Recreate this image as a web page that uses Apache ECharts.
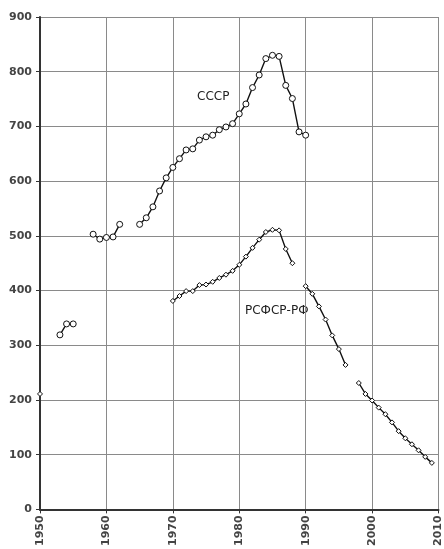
<!DOCTYPE html>
<html lang="ru">
<head>
    <meta charset="UTF-8">
    <title>Аборты СССР / РСФСР-РФ</title>
    <script src="https://cdn.jsdelivr.net/npm/echarts@6/dist/echarts.min.js"></script>
    <style>
        html, body { margin: 0; padding: 0; background: #fff; }
    </style>
</head>
<body>
    <div id="main" style="width: 444px;height:549px;"></div>
    <script type="text/javascript">
      // data, null = no value (line breaks there)
      var ussrYears = [1953, 1954, 1955, 1956, 1957, 1958, 1959, 1960, 1961, 1962, 1963, 1964,
                       1965, 1966, 1967, 1968, 1969, 1970, 1971, 1972, 1973, 1974, 1975, 1976,
                       1977, 1978, 1979, 1980, 1981, 1982, 1983, 1984, 1985, 1986, 1987, 1988,
                       1989, 1990];
      var ussrValues = [319, 339, 339, null, null, 503, 494, 497, 498, 521, null, null,
                        521, 533, 553, 582, 606, 625, 641, 657, 659, 675, 681, 684,
                        694, 699, 705, 723, 741, 771, 794, 824, 830, 828, 775, 751,
                        690, 684];

      var rsfsrYears = [1950, 1951,
                        1970, 1971, 1972, 1973, 1974, 1975, 1976, 1977, 1978, 1979,
                        1980, 1981, 1982, 1983, 1984, 1985, 1986, 1987, 1988, 1989,
                        1990, 1991, 1992, 1993, 1994, 1995, 1996, 1997, 1998, 1999,
                        2000, 2001, 2002, 2003, 2004, 2005, 2006, 2007, 2008, 2009];
      var rsfsrValues = [211, null,
                         381, 390, 399, 399, 410, 411, 416, 423, 429, 436,
                         447, 462, 478, 493, 507, 511, 510, 476, 450, null,
                         408, 394, 371, 347, 318, 293, 264, null, 231, 211,
                         199, 186, 174, 159, 143, 130, 119, 108, 96, 85];

      var yearTicks = [1950, 1960, 1970, 1980, 1990, 2000, 2010];

      function pairs(xs, ys) {
        return xs.map(function (x, i) { return [x, ys[i] === null ? '-' : ys[i]]; });
      }

      var myChart = echarts.init(document.getElementById('main'));

      var labelFont = { fontFamily: 'DejaVu Sans', fontSize: 11, color: '#444', fontWeight: 'bold' };

      var option = {
        animation: false,
        backgroundColor: '#fff',
        grid: { left: 40, right: 5, top: 17, bottom: 37 },
        xAxis: {
          type: 'value',
          min: 1950,
          max: 2010,
          interval: 10,
          axisLine: { lineStyle: { color: '#333', width: 2 } },
          axisTick: { show: true, length: 4, lineStyle: { color: '#333' } },
          splitLine: { show: true, lineStyle: { color: '#8a8a8a', width: 1 } },
          axisLabel: Object.assign({ rotate: 90, margin: 6, formatter: function (v) {
            return yearTicks.indexOf(v) >= 0 ? String(v) : '';
          } }, labelFont)
        },
        yAxis: {
          type: 'value',
          min: 0,
          max: 900,
          interval: 100,
          axisLine: { show: true, lineStyle: { color: '#333', width: 2 } },
          axisTick: { show: true, length: 4, lineStyle: { color: '#333' } },
          splitLine: { show: true, lineStyle: { color: '#8a8a8a', width: 1 } },
          axisLabel: Object.assign({ margin: 8 }, labelFont)
        },
        graphic: [
          { type: 'text', left: 197, top: 91,
            style: { text: 'СССР', font: '12px "DejaVu Sans"', fill: '#222' } },
          { type: 'text', left: 245, top: 305,
            style: { text: 'РСФСР-РФ', font: '12px "DejaVu Sans"', fill: '#222' } }
        ],
        series: [
          {
            name: 'СССР',
            type: 'line',
            data: pairs(ussrYears, ussrValues),
            connectNulls: false,
            symbol: 'circle',
            symbolSize: 6,
            lineStyle: { color: '#111', width: 1.4 },
            itemStyle: { color: '#fff', borderColor: '#111', borderWidth: 1 },
            z: 3
          },
          {
            name: 'РСФСР-РФ',
            type: 'line',
            data: pairs(rsfsrYears, rsfsrValues),
            connectNulls: false,
            symbol: 'diamond',
            symbolSize: 5,
            lineStyle: { color: '#111', width: 1.4 },
            itemStyle: { color: '#fff', borderColor: '#111', borderWidth: 1 },
            z: 3
          }
        ]
      };

      myChart.setOption(option);
    </script>
</body>
</html>
